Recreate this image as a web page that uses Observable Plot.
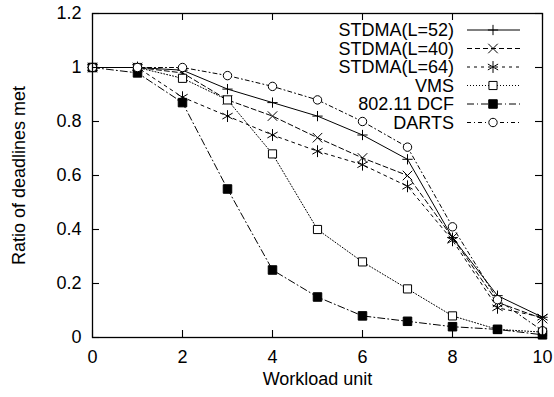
<!DOCTYPE html>
<html><head><meta charset="utf-8">
<script src="https://cdn.jsdelivr.net/npm/d3@7"></script>
<script src="https://cdn.jsdelivr.net/npm/@observablehq/plot@0.6"></script>
<style>
body{margin:0;background:#fff}
svg{font-family:"Liberation Sans",Arial,sans-serif}
</style>
</head><body><div id="chart"></div>
<script>
// ---- data ----
const workload = [0, 1, 2, 3, 4, 5, 6, 7, 8, 9, 10];
const stdma52 = [1, 1, 0.99, 0.92, 0.87, 0.82, 0.75, 0.66, 0.37, 0.155, 0.075];
const stdma40 = [1, 1, 0.98, 0.88, 0.82, 0.74, 0.665, 0.60, 0.37, 0.13, 0.07];
const stdma64 = [1, 1, 0.89, 0.82, 0.75, 0.69, 0.64, 0.56, 0.36, 0.11, 0.075];
const vms     = [1, 1, 0.96, 0.88, 0.68, 0.40, 0.28, 0.18, 0.08, 0.03, 0.02];
const dcf     = [1, 0.98, 0.87, 0.55, 0.25, 0.15, 0.08, 0.06, 0.04, 0.03, 0.01];
const darts   = [1, 1, 1.0, 0.97, 0.93, 0.88, 0.80, 0.705, 0.41, 0.14, 0.025];
const seriesNames = ["STDMA(L=52)", "STDMA(L=40)", "STDMA(L=64)", "VMS", "802.11 DCF", "DARTS"];
const xTicks = [0, 2, 4, 6, 8, 10];
const yTicks = [0, 0.2, 0.4, 0.6, 0.8, 1, 1.2];
const xLabel = "Workload unit";
const yLabel = "Ratio of deadlines met";

// ---- styles ----
const valuesList = [stdma52, stdma40, stdma64, vms, dcf, darts];
const styles = [
  {symbol: "plus", fill: "none", dash: null, r: 3.4},
  {symbol: "times", fill: "none", dash: "5,3", r: 4.4},
  {symbol: "asterisk", fill: "none", dash: "3,4", r: 5.6},
  {symbol: "square", fill: "white", dash: "1,2", r: 4.6},
  {symbol: "square", fill: "black", dash: "7,3,1,3", r: 4.8},
  {symbol: "circle", fill: "white", dash: "4,3,1,3", r: 4.2}
];
const series = seriesNames.map((name, k) => ({name, values: valuesList[k], ...styles[k]}));

const W = 554, H = 397, mL = 92, mR = 12, mT = 13, mB = 60;
const pw = W - mL - mR, ph = H - mT - mB;
const FS = 18;

const marks = [];
for (const s of series) {
  const rows = workload.map((x, i) => ({x, y: s.values[i]}));
  marks.push(Plot.line(rows, {x: "x", y: "y", stroke: "black", strokeWidth: 1, strokeDasharray: s.dash}));
}
for (const s of series) {
  const rows = workload.map((x, i) => ({x, y: s.values[i]}));
  marks.push(Plot.dot(rows, {x: "x", y: "y", symbol: () => s.symbol, r: s.r, fill: s.fill, stroke: "black", strokeWidth: 1}));
}

const chart = Plot.plot({
  width: W, height: H,
  marginLeft: mL, marginRight: mR, marginTop: mT, marginBottom: mB,
  style: {fontSize: FS + "px", fontFamily: '"Liberation Sans", Arial, sans-serif', background: "white", color: "black"},
  x: {domain: [0, 10]},
  y: {domain: [0, 1.2]},
  symbol: {type: "identity"},
  marks: [
    ...marks,
    Plot.frame({stroke: "black", strokeWidth: 1.3}),
    Plot.ruleX(xTicks, {x: d => d, insetTop: ph - 7, strokeWidth: 1.1}),
    Plot.ruleX(xTicks, {x: d => d, insetBottom: ph - 7, strokeWidth: 1.1}),
    Plot.ruleY(yTicks, {y: d => d, insetRight: pw - 7, strokeWidth: 1.1}),
    Plot.ruleY(yTicks, {y: d => d, insetLeft: pw - 7, strokeWidth: 1.1}),
    Plot.axisX(xTicks, {tickSize: 0, tickPadding: 13, label: null, fontSize: FS}),
    Plot.axisY(yTicks, {tickSize: 0, tickPadding: 11, label: null, fontSize: FS, tickFormat: d => String(+d.toFixed(1))}),
    Plot.text([xLabel], {text: d => d, frameAnchor: "bottom", dy: 47, fontSize: FS}),
    Plot.text([yLabel], {text: d => d, frameAnchor: "left", textAnchor: "middle", dx: -73, rotate: -90, fontSize: FS})
  ]
});

// ---- legend (inside plot, top right) ----
const svg = d3.select(chart);
const lg = svg.append("g").attr("font-size", FS).attr("font-family", '"Liberation Sans", Arial, sans-serif');
const symMap = {plus: d3.symbolPlus, times: d3.symbolTimes, asterisk: d3.symbolAsterisk, square: d3.symbolSquare, circle: d3.symbolCircle};
series.forEach((s, i) => {
  const y = 30 + i * 18.5;
  lg.append("text").attr("x", 454).attr("y", y).attr("text-anchor", "end").attr("dy", "0.35em").attr("fill", "black").text(s.name);
  lg.append("line").attr("x1", 467).attr("x2", 520).attr("y1", y).attr("y2", y)
    .attr("stroke", "black").attr("stroke-width", 1).attr("stroke-dasharray", s.dash);
  lg.append("path").attr("transform", `translate(493,${y})`)
    .attr("d", d3.symbol(symMap[s.symbol], Math.PI * s.r * s.r)())
    .attr("fill", s.fill).attr("stroke", "black").attr("stroke-width", 1);
});

document.getElementById("chart").appendChild(chart);
</script>
</body></html>
